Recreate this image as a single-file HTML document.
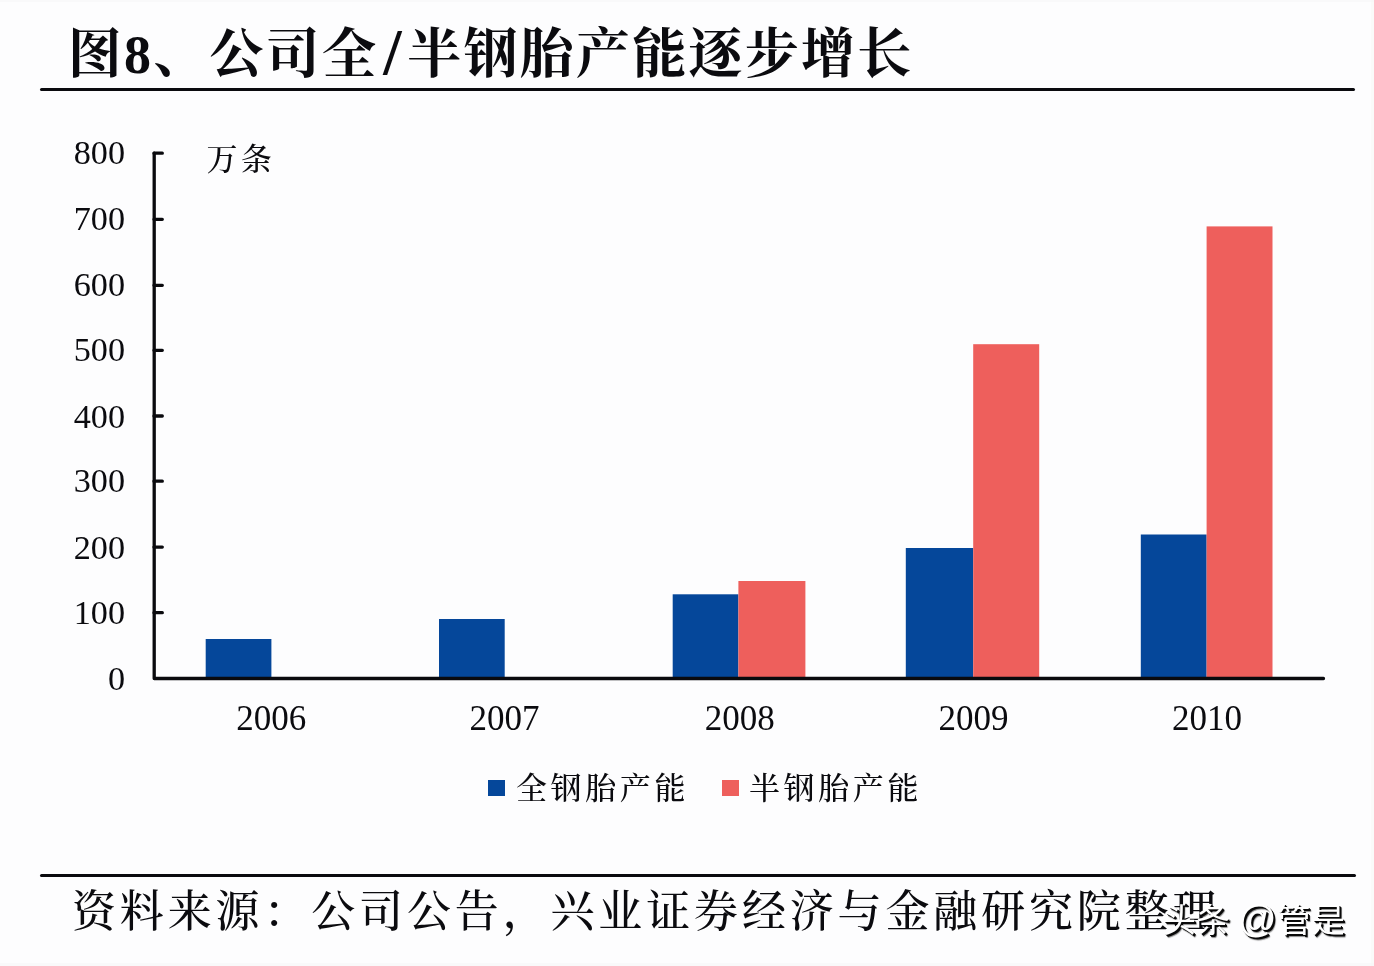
<!DOCTYPE html>
<html lang="zh-CN">
<head>
<meta charset="utf-8">
<title>图8、公司全/半钢胎产能逐步增长</title>
<style>
html,body{margin:0;padding:0;}
body{width:1374px;height:966px;overflow:hidden;background:#fdfdfe;position:relative;
  font-family:"Liberation Serif","Noto Serif CJK SC",serif;color:#0b0b0f;}
.abs{position:absolute;white-space:nowrap;line-height:1;}
#title{left:67.8px;top:28px;font-size:54px;font-weight:700;letter-spacing:2.25px;}
#title .sl{display:inline-block;width:28px;text-align:center;letter-spacing:0;margin:0 1px 0 0;font-size:66px;line-height:0;position:relative;top:1px;}
#rule1{left:40px;top:88px;width:1315px;height:3px;background:#0a0a0e;border-radius:1.5px;}
#rule2{left:40px;top:874px;width:1315.5px;height:3px;background:#0a0a0e;border-radius:1.5px;}
#chart{left:0;top:0;}
.ylab{font-size:34.2px;width:70px;text-align:right;left:55px;}
.xlab{font-size:35px;width:120px;text-align:center;}
#unit{left:206.5px;top:144px;font-size:31px;letter-spacing:3.6px;font-weight:500;}
.leg{font-size:31px;letter-spacing:3.6px;top:773px;font-weight:500;}
.sw{width:17px;height:16px;top:780px;}
#source{left:72px;top:890.5px;font-size:44px;letter-spacing:3.85px;font-weight:500;}
#wm{left:1162.5px;top:904px;font-size:33.5px;word-spacing:-3.5px;letter-spacing:.6px;font-family:"Liberation Sans","Noto Sans CJK SC",sans-serif;
  color:#fff;text-shadow:1px 1px 0 #0a0a0a,2px 2px 0 #0a0a0a,2.5px 2.5px 1px rgba(0,0,0,.45);}
#wm .at{font-size:38px;line-height:0;margin-left:1px;}
#edgeT{left:0;top:0;width:1374px;height:2px;background:#f7f7f8;opacity:.7;}
#edgeR{left:1371px;top:0;width:3px;height:966px;background:#f8f8f7;opacity:.7;}
#edgeB{left:0;top:963px;width:1374px;height:3px;background:#f6f7f8;opacity:.7;}
</style>
</head>
<body>
<div id="title" class="abs">图8、公司全<span class="sl">/</span>半钢胎产能逐步增长</div>
<div id="edgeT" class="abs"></div><div id="edgeR" class="abs"></div><div id="edgeB" class="abs"></div>
<div id="rule1" class="abs"></div>

<svg id="chart" class="abs" width="1374" height="966" viewBox="0 0 1374 966">
  <g fill="#05479a">
    <rect x="205.7" y="639" width="65.7" height="39"/>
    <rect x="439" y="619" width="65.7" height="59"/>
    <rect x="672.7" y="594.3" width="65.7" height="84"/>
    <rect x="905.8" y="548" width="67.4" height="130"/>
    <rect x="1140.8" y="534.5" width="65.8" height="144"/>
  </g>
  <g fill="#ee5f5c">
    <rect x="738.4" y="581" width="67" height="97"/>
    <rect x="973.2" y="344.2" width="66" height="334"/>
    <rect x="1206.6" y="226.4" width="65.9" height="452"/>
  </g>
  <g stroke="#0a0a0e" stroke-width="3.3" fill="none" stroke-linecap="round" stroke-linejoin="round">
    <path d="M154.2 153.2V678.5H1323.5"/>
    <path d="M154 153.2H162.3M154 219.3H162.3M154 285.3H162.3M154 350.3H162.3M154 416.0H162.3M154 481.2H162.3M154 547.1H162.3M154 612.7H162.3"/>
  </g>
</svg>

<div class="abs ylab" style="top:136px">800</div>
<div class="abs ylab" style="top:202px">700</div>
<div class="abs ylab" style="top:268px">600</div>
<div class="abs ylab" style="top:333px">500</div>
<div class="abs ylab" style="top:400px">400</div>
<div class="abs ylab" style="top:464px">300</div>
<div class="abs ylab" style="top:531px">200</div>
<div class="abs ylab" style="top:596px">100</div>
<div class="abs ylab" style="top:662px">0</div>

<div id="unit" class="abs">万条</div>

<div class="abs xlab" style="left:211.3px;top:701px">2006</div>
<div class="abs xlab" style="left:444.5px;top:701px">2007</div>
<div class="abs xlab" style="left:679.8px;top:701px">2008</div>
<div class="abs xlab" style="left:913.4px;top:701px">2009</div>
<div class="abs xlab" style="left:1146.9px;top:701px">2010</div>

<div class="abs sw" style="left:488px;background:#05479a"></div>
<div class="abs leg" style="left:516px">全钢胎产能</div>
<div class="abs sw" style="left:722px;background:#ee5f5c"></div>
<div class="abs leg" style="left:749px">半钢胎产能</div>

<div id="rule2" class="abs"></div>
<div id="source" class="abs">资料来源：公司公告，兴业证券经济与金融研究院整理</div>
<div id="wm" class="abs">头条 <span class="at">@</span>管是</div>
</body>
</html>
